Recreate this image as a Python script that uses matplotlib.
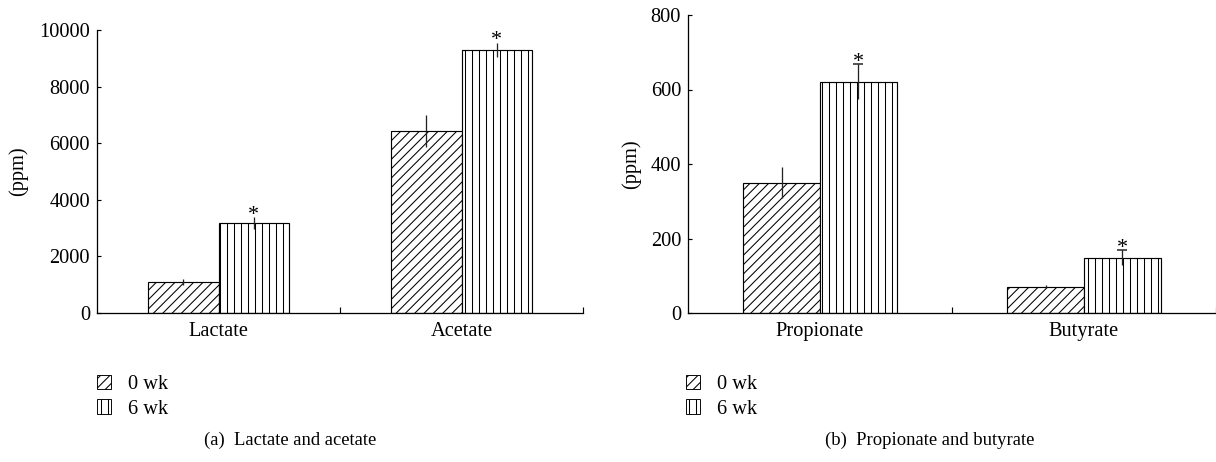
import matplotlib.pyplot as plt
import numpy as np
from matplotlib.patches import Patch

plt.rcParams['font.family'] = ['Liberation Serif', 'DejaVu Serif']
plt.rcParams['hatch.linewidth'] = 0.9
plt.rcParams['font.size'] = 17.5

# panel (a) values, ppm
groups_a = ['Lactate', 'Acetate']
wk0_a = [1100, 6430]
wk0_a_err = [100, 580]
wk6_a = [3180, 9300]
wk6_a_err = [200, 250]

# panel (b) values, ppm
groups_b = ['Propionate', 'Butyrate']
wk0_b = [350, 70]
wk0_b_err = [42, 4]
wk6_b = [621, 148]
wk6_b_err = [47, 20]

legend_labels = ['0 wk', '6 wk']
captions = ['(a)  Lactate and acetate', '(b)  Propionate and butyrate']

DPI = 84
fig = plt.figure(figsize=(1216 / DPI, 462 / DPI), dpi=DPI)
ax_a = fig.add_axes([97 / 1216, 149 / 462, 486 / 1216, 283 / 462])
ax_b = fig.add_axes([688 / 1216, 149 / 462, 528 / 1216, 298 / 462])


def draw_panel(ax, groups, wk0, wk0_err, wk6, wk6_err, ymax, ystep, top_cap):
    x = np.arange(len(groups))
    w = 0.29
    ax.bar(x - w / 2, wk0, w, color='white', edgecolor='black', hatch='///',
           linewidth=1.0, zorder=2)
    ax.bar(x + w / 2, wk6, w, color='white', edgecolor='black', hatch='||',
           linewidth=1.0, zorder=2)
    ax.errorbar(x - w / 2, wk0, yerr=wk0_err, fmt='none', ecolor='#222222',
                elinewidth=1.1, capsize=0, zorder=3)
    ax.errorbar(x + w / 2, wk6, yerr=wk6_err, fmt='none', ecolor='#222222',
                elinewidth=1.1, capsize=0, zorder=3)
    if top_cap:
        # cap only on the upper end, as in the original
        ax.plot(x + w / 2, np.array(wk6) + np.array(wk6_err), ls='none',
                marker='_', ms=8, mew=1.3, color='#222222', zorder=3)
    # significance marks
    for xi, v, e in zip(x + w / 2, wk6, wk6_err):
        ax.annotate('*', (xi, v + e), xytext=(0, -2), textcoords='offset points',
                    ha='center', va='baseline', fontsize=19)

    ax.set_xlim(-0.5, len(groups) - 0.5)
    ax.set_ylim(0, ymax)
    ax.set_yticks(np.arange(0, ymax + 1, ystep))
    ax.set_xticks(x, groups)
    ax.set_xticks(np.arange(len(groups)) + 0.5, minor=True)
    ax.tick_params(axis='x', which='major', length=0, pad=8)
    ax.tick_params(axis='x', which='minor', direction='in', length=5, width=1)
    ax.tick_params(axis='y', direction='in', length=3, width=1, pad=6)
    for s in ['top', 'right']:
        ax.spines[s].set_visible(False)
    for s in ['left', 'bottom']:
        ax.spines[s].set_linewidth(1.1)
    ax.set_ylabel('(ppm)')


draw_panel(ax_a, groups_a, wk0_a, wk0_a_err, wk6_a, wk6_a_err, 10000, 2000, False)
draw_panel(ax_b, groups_b, wk0_b, wk0_b_err, wk6_b, wk6_b_err, 800, 200, True)
ax_a.yaxis.set_label_coords(-0.142, 0.5)
ax_b.yaxis.set_label_coords(-0.088, 0.5)

handles = [Patch(facecolor='white', edgecolor='black', hatch='///', linewidth=0.8),
           Patch(facecolor='white', edgecolor='black', hatch='||', linewidth=0.8)]
for xpos, cap, cx in [(97 / 1216, captions[0], 290 / 1216),
                      (686 / 1216, captions[1], 930 / 1216)]:
    fig.legend(handles, legend_labels, loc='upper left',
               bbox_to_anchor=(xpos, 1 - 375 / 462), frameon=False,
               borderpad=0, borderaxespad=0, handlelength=0.7, handleheight=0.7,
               handletextpad=0.8, labelspacing=0.25, fontsize=17.5)
    fig.text(cx, 1 - 440 / 462, cap, ha='center', va='center', fontsize=16)

fig.savefig('out.png', dpi=DPI)
